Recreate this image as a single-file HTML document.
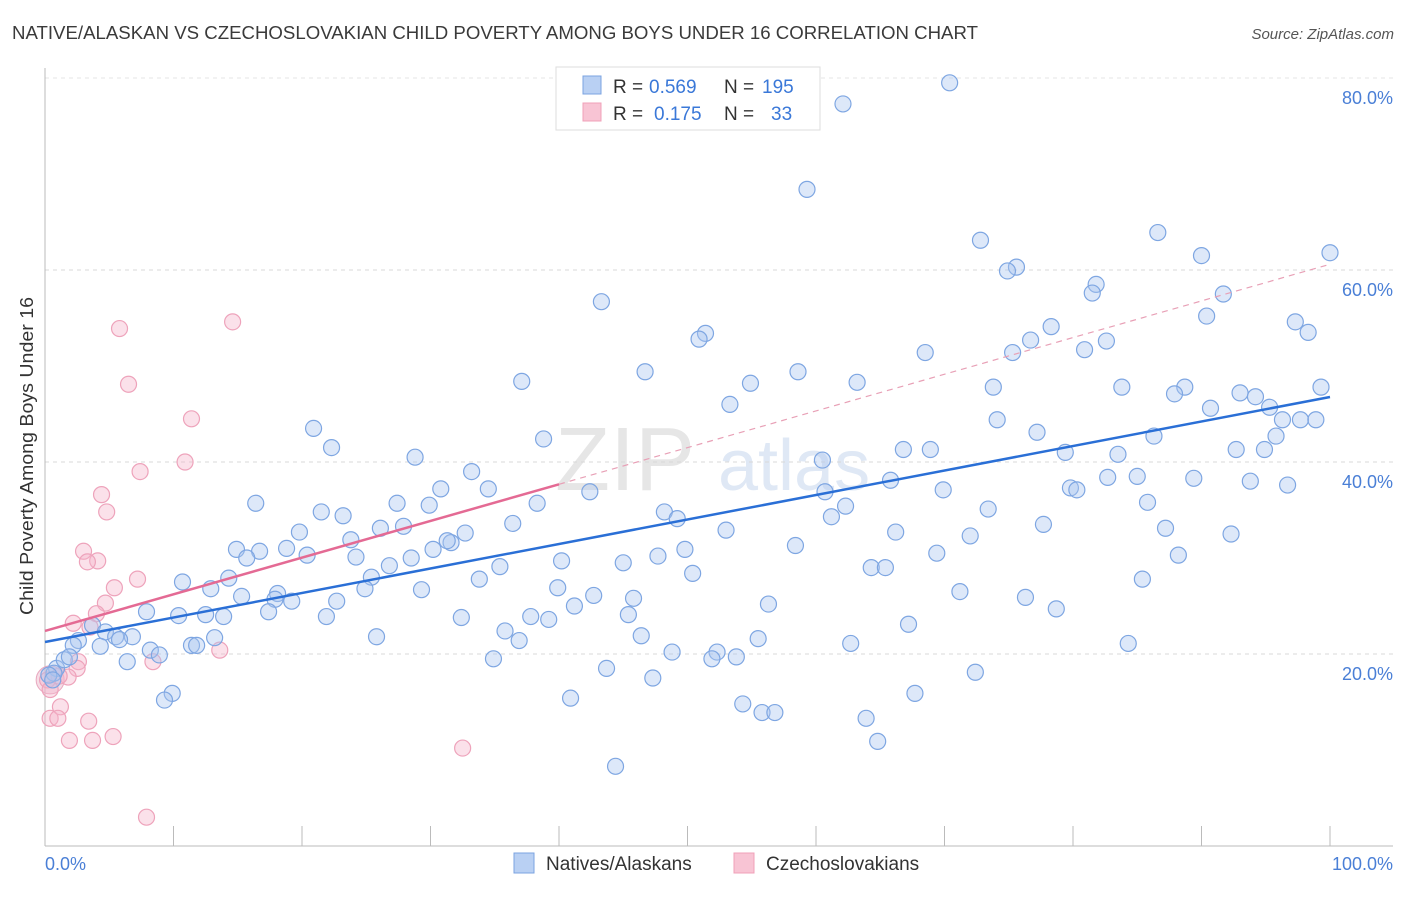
<!DOCTYPE html>
<html><head><meta charset="utf-8"><style>
body{margin:0;background:#fff;font-family:"Liberation Sans",sans-serif;}
svg text{font-family:"Liberation Sans",sans-serif;}
</style></head><body>
<svg id="chart" width="1406" height="892" xmlns="http://www.w3.org/2000/svg">
<text x="12" y="39" font-size="18" fill="#3a3a3a" textLength="966" lengthAdjust="spacingAndGlyphs">NATIVE/ALASKAN VS CZECHOSLOVAKIAN CHILD POVERTY AMONG BOYS UNDER 16 CORRELATION CHART</text>
<text x="1394" y="39" font-size="15" fill="#555" text-anchor="end" font-style="italic">Source: ZipAtlas.com</text>
<text x="555" y="490" font-size="90" fill="#e6e6e6" font-family="Liberation Serif">ZIP</text>
<text x="718" y="490" font-size="72" fill="#dfe8f5">atlas</text>
<g id="grid"></g>
<g id="axes"></g>
<g id="pinkpts"></g>
<g id="bluepts"></g>
<g id="lines"></g>
<text transform="translate(33,456) rotate(-90)" font-size="18" fill="#333" text-anchor="middle" textLength="318" lengthAdjust="spacingAndGlyphs">Child Poverty Among Boys Under 16</text>
<text x="45" y="870" font-size="18" fill="#4a7fd6">0.0%</text>
<text x="1393" y="870" font-size="18" fill="#4a7fd6" text-anchor="end">100.0%</text>
<g>
<rect x="556" y="67" width="264" height="63" fill="#fff" stroke="#ddd"/>
<rect x="583" y="76" width="18" height="18" fill="#b9d0f3" stroke="#7ba3e0"/>
<text x="613" y="93" font-size="19" fill="#333">R =</text>
<text x="649" y="93" font-size="19" fill="#3a78d8">0.569</text>
<text x="724" y="93" font-size="19" fill="#333">N =</text>
<text x="762" y="93" font-size="19" fill="#3a78d8">195</text>
<rect x="583" y="103" width="18" height="18" fill="#f8c4d4" stroke="#f0a0b8"/>
<text x="613" y="120" font-size="19" fill="#333">R =</text>
<text x="654" y="120" font-size="19" fill="#3a78d8">0.175</text>
<text x="724" y="120" font-size="19" fill="#333">N =</text>
<text x="771" y="120" font-size="19" fill="#3a78d8">33</text>
</g>
<g>
<rect x="514" y="853" width="20" height="20" fill="#b9d0f3" stroke="#7ba3e0"/>
<text x="546" y="870" font-size="19" fill="#333">Natives/Alaskans</text>
<rect x="734" y="853" width="20" height="20" fill="#f8c4d4" stroke="#f0a0b8"/>
<text x="766" y="870" font-size="19" fill="#333">Czechoslovakians</text>
</g>
</svg>
<script>
const yTicks=[20,40,60,80];
const yTickLabels=["20.0%","40.0%","60.0%","80.0%"];
const xTicks=[0,10,20,30,40,50,60,70,80,90,100];
const blueX=[70.4,62.1,59.3,72.8,86.6,90.0,100,75.6,74.9,81.8,81.5,91.7,43.3,90.4,97.3,98.3,51.4,50.9,78.3,76.7,82.6,80.9,68.5,75.3,46.7,58.6,54.9,63.2,37.1,73.8,83.8,88.7,87.9,99.3,93.0,94.2,90.7,53.3,95.3,74.1,96.3,97.7,98.9,20.9,77.2,86.3,95.8,38.8,22.3,66.8,68.9,79.4,92.7,83.5,28.8,60.5,94.9,33.2,82.7,85.0,65.8,89.4,93.8,96.7,30.8,34.5,42.4,60.7,69.9,79.8,80.3,16.4,27.4,38.3,29.9,85.8,21.5,23.2,48.2,49.2,73.4,61.2,62.3,36.4,19.8,77.7,26.1,27.9,32.7,53.0,66.2,87.2,23.8,31.6,31.3,72.0,92.3,14.9,16.7,18.8,20.4,30.2,28.5,49.8,47.7,58.4,69.4,88.2,24.2,40.2,45.0,26.8,35.4,15.7,64.3,65.4,50.4,14.3,25.4,10.7,33.8,85.4,12.9,24.9,29.3,39.9,18.1,17.9,15.3,19.2,22.7,71.2,42.7,45.8,76.3,78.7,41.2,56.3,7.9,17.4,10.4,12.5,13.9,21.9,32.4,37.8,39.2,45.4,67.2,3.7,4.7,5.5,6.8,13.2,25.8,35.8,36.9,46.4,55.5,2.6,2.2,4.3,5.8,8.2,8.9,6.4,11.4,11.8,62.7,84.3,48.8,52.3,51.9,53.8,34.9,43.7,72.4,0.9,0.7,1.5,1.9,0.3,0.6,9.9,9.3,40.9,47.3,67.7,54.3,55.8,56.8,63.9,64.8,44.4];
const blueY=[79.5,77.3,68.4,63.1,63.9,61.5,61.8,60.3,59.9,58.5,57.6,57.5,56.7,55.2,54.6,53.5,53.4,52.8,54.1,52.7,52.6,51.7,51.4,51.4,49.4,49.4,48.2,48.3,48.4,47.8,47.8,47.8,47.1,47.8,47.2,46.8,45.6,46.0,45.7,44.4,44.4,44.4,44.4,43.5,43.1,42.7,42.7,42.4,41.5,41.3,41.3,41.0,41.3,40.8,40.5,40.2,41.3,39.0,38.4,38.5,38.1,38.3,38.0,37.6,37.2,37.2,36.9,36.9,37.1,37.3,37.1,35.7,35.7,35.7,35.5,35.8,34.8,34.4,34.8,34.1,35.1,34.3,35.4,33.6,32.7,33.5,33.1,33.3,32.6,32.9,32.7,33.1,31.9,31.6,31.8,32.3,32.5,30.9,30.7,31.0,30.3,30.9,30.0,30.9,30.2,31.3,30.5,30.3,30.1,29.7,29.5,29.2,29.1,30.0,29.0,29.0,28.4,27.9,28.0,27.5,27.8,27.8,26.8,26.8,26.7,26.9,26.3,25.7,26.0,25.5,25.5,26.5,26.1,25.8,25.9,24.7,25.0,25.2,24.4,24.4,24.0,24.1,23.9,23.9,23.8,23.9,23.6,24.1,23.1,23.0,22.3,21.8,21.8,21.7,21.8,22.4,21.4,21.9,21.6,21.4,20.9,20.8,21.5,20.4,19.9,19.2,20.9,20.9,21.1,21.1,20.2,20.2,19.5,19.7,19.5,18.5,18.1,18.5,18.0,19.4,19.7,17.8,17.3,15.9,15.2,15.4,17.5,15.9,14.8,13.9,13.9,13.3,10.9,8.3];
const pinkX=[5.8,14.6,6.5,11.4,7.4,10.9,4.4,4.8,3.0,4.1,3.3,7.2,5.4,4.7,4.0,2.2,3.5,13.6,8.4,2.6,2.5,1.8,1.1,0.2,0.4,1.2,0.4,1.0,3.4,5.3,1.9,3.7,32.5,7.9];
const pinkY=[53.9,54.6,48.1,44.5,39.0,40.0,36.6,34.8,30.7,29.7,29.6,27.8,26.9,25.3,24.2,23.2,22.8,20.4,19.2,19.2,18.5,17.6,17.7,17.3,16.3,14.5,13.3,13.3,13.0,11.4,11.0,11.0,10.2,3.0];
const blueTrend=[21.25,46.77];
const pinkTrend=[22.4,60.6];
const pinkSolidEnd=40;

const NS="http://www.w3.org/2000/svg";
const X0=45,X1=1330,YB=846,PXPER=9.6;
function sx(v){return X0+(X1-X0)*v/100;}
function sy(v){return YB-v*PXPER;}
function mk(tag,attrs,parent){const e=document.createElementNS(NS,tag);for(const k in attrs)e.setAttribute(k,attrs[k]);parent.appendChild(e);return e;}
const grid=document.getElementById('grid'),axes=document.getElementById('axes');
yTicks.forEach((t,i)=>{
  const l=mk('line',{x1:45,x2:1393,y1:sy(t),y2:sy(t),stroke:'#d8d8d8','stroke-dasharray':'4,4'},grid);
  
  
  const tx=mk('text',{x:1393,y:sy(t)+26,'font-size':18,fill:'#4a7fd6','text-anchor':'end'},grid);
  tx.textContent=yTickLabels[i];
  
  
});
const topGrid=mk('line',{x1:45,x2:1393,y1:78,y2:78,stroke:'#e4e4e4','stroke-dasharray':'4,4'},grid);


const ya=mk('line',{x1:45,x2:45,y1:68,y2:846,stroke:'#bbb'},axes);


const xa=mk('line',{x1:45,x2:1393,y1:846,y2:846,stroke:'#bbb'},axes);


xTicks.forEach(t=>{
  const l=mk('line',{x1:sx(t),x2:sx(t),y1:826,y2:846,stroke:'#bbb'},axes);
  
  
});
const bg=document.getElementById('bluepts'),pg=document.getElementById('pinkpts');
const big=mk('circle',{cx:sx(0.4),cy:sy(17.3),r:14,fill:'rgba(235,180,200,0.45)',stroke:'#e8a8bf'},pg);


pinkX.forEach((x,i)=>{
  const c=mk('circle',{cx:sx(x),cy:sy(pinkY[i]),r:8,fill:'rgba(246,180,202,0.4)',stroke:'#eea3bb','stroke-width':1.2},pg);
  
  
});
blueX.forEach((x,i)=>{
  const c=mk('circle',{cx:sx(x),cy:sy(blueY[i]),r:8,fill:'rgba(170,198,240,0.4)',stroke:'#7ea6e2','stroke-width':1.2},bg);
  
  
});
const lg=document.getElementById('lines');
function ty(tr,x){return tr[0]+(tr[1]-tr[0])*x/100;}
const bl=mk('line',{x1:sx(0),y1:sy(ty(blueTrend,0)),x2:sx(100),y2:sy(ty(blueTrend,100)),stroke:'#2a6fd6','stroke-width':2.5},lg);


const pd=mk('line',{x1:sx(pinkSolidEnd),y1:sy(ty(pinkTrend,pinkSolidEnd)),x2:sx(100),y2:sy(ty(pinkTrend,100)),stroke:'#e8a0b6','stroke-width':1.2,'stroke-dasharray':'6,5'},lg);


const ps=mk('line',{x1:sx(0),y1:sy(ty(pinkTrend,0)),x2:sx(pinkSolidEnd),y2:sy(ty(pinkTrend,pinkSolidEnd)),stroke:'#e46a94','stroke-width':2.5},lg);


</script>
</body></html>
